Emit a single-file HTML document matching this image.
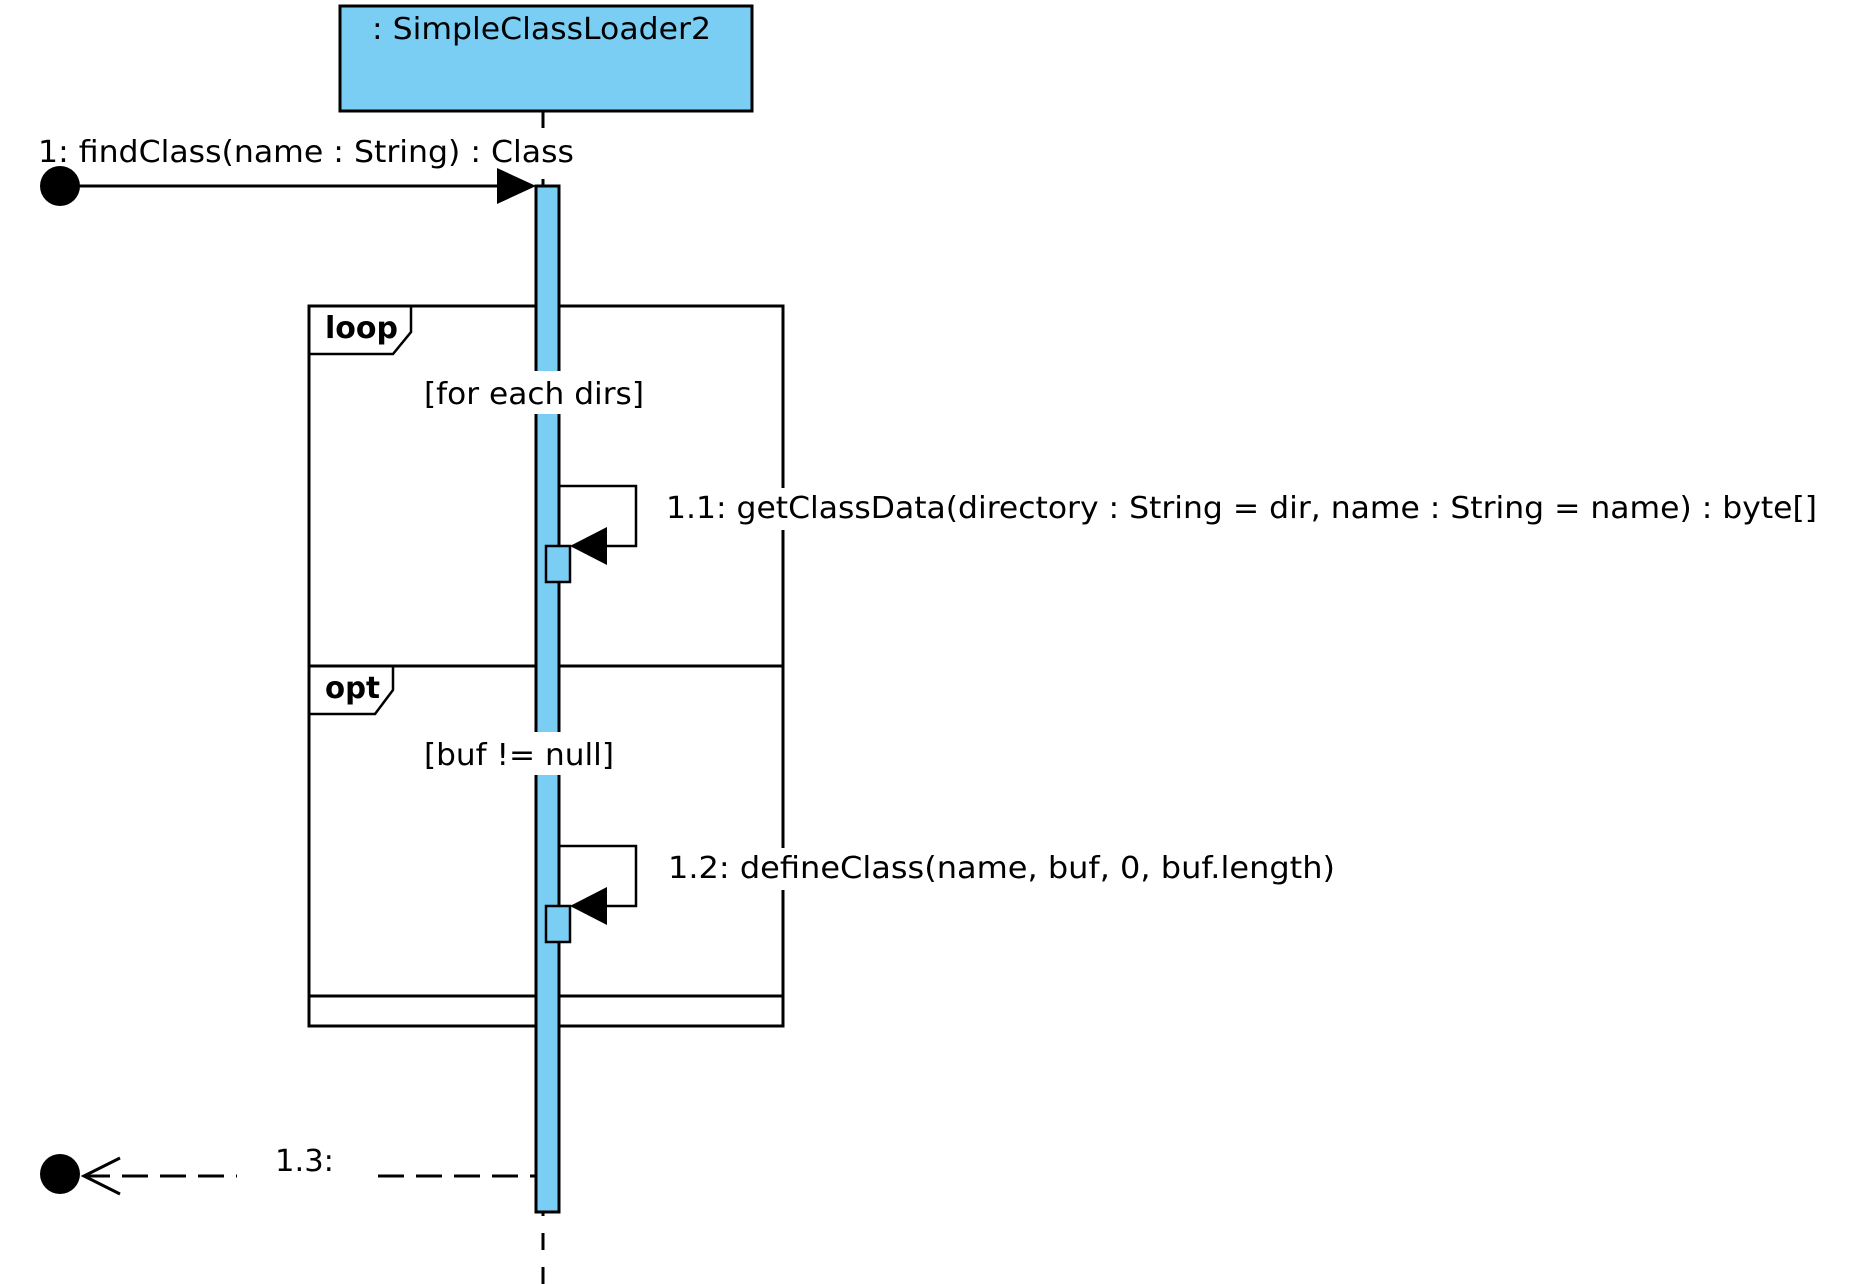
<!DOCTYPE html>
<html><head><meta charset="utf-8"><style>
html,body{margin:0;padding:0;background:#fff;}
svg{display:block;}
text{font-family:"DejaVu Sans","Liberation Sans",sans-serif;font-size:30px;fill:#000;}
</style></head><body>
<svg width="1863" height="1284" viewBox="0 0 1863 1284" xmlns="http://www.w3.org/2000/svg">
<rect x="340" y="6" width="412" height="105" fill="#7acef4" stroke="#000" stroke-width="3"/>
<text x="372" y="39" textLength="339" lengthAdjust="spacingAndGlyphs">: SimpleClassLoader2</text>
<line x1="543" y1="111" x2="543" y2="1284" stroke="#000" stroke-width="3" stroke-dasharray="17,17"/>
<rect x="309" y="306" width="474" height="720" fill="none" stroke="#000" stroke-width="3"/>
<line x1="309" y1="666" x2="783" y2="666" stroke="#000" stroke-width="3"/>
<line x1="309" y1="996" x2="783" y2="996" stroke="#000" stroke-width="3"/>
<path d="M309 354 H393 L411 332 V306" fill="none" stroke="#000" stroke-width="2.5"/>
<path d="M309 714 H375 L393 690 V666" fill="none" stroke="#000" stroke-width="2.5"/>
<text x="325" y="338" font-weight="bold" textLength="73" lengthAdjust="spacingAndGlyphs">loop</text>
<text x="325" y="698" font-weight="bold" textLength="55" lengthAdjust="spacingAndGlyphs">opt</text>
<rect x="536" y="186" width="23" height="1026" fill="#7acef4" stroke="#000" stroke-width="3"/>
<rect x="422" y="371" width="224" height="43" fill="#fff"/>
<text x="424" y="404" textLength="220" lengthAdjust="spacingAndGlyphs">[for each dirs]</text>
<rect x="422" y="732" width="194" height="43" fill="#fff"/>
<text x="424" y="765" textLength="190" lengthAdjust="spacingAndGlyphs">[buf != null]</text>
<rect x="34" y="132" width="545" height="40" fill="#fff"/>
<text x="38" y="162" textLength="536" lengthAdjust="spacingAndGlyphs">1: findClass(name : String) : Class</text>
<circle cx="60" cy="186" r="20" fill="#000"/>
<line x1="60" y1="186" x2="500" y2="186" stroke="#000" stroke-width="3"/>
<polygon points="497,168 536,186 497,204" fill="#000"/>
<polyline points="559,486 636,486 636,546 572,546" fill="none" stroke="#000" stroke-width="2.5"/>
<rect x="546" y="546" width="24" height="36" fill="#7acef4" stroke="#000" stroke-width="2.5"/>
<polygon points="570,546 607,527 607,565" fill="#000"/>
<rect x="660" y="488" width="1165" height="42" fill="#fff"/>
<text x="666" y="518" textLength="1151" lengthAdjust="spacingAndGlyphs">1.1: getClassData(directory : String = dir, name : String = name) : byte[]</text>
<polyline points="559,846 636,846 636,906 572,906" fill="none" stroke="#000" stroke-width="2.5"/>
<rect x="546" y="906" width="24" height="36" fill="#7acef4" stroke="#000" stroke-width="2.5"/>
<polygon points="570,906 607,887 607,925" fill="#000"/>
<rect x="662" y="848" width="680" height="42" fill="#fff"/>
<text x="668" y="878" textLength="667" lengthAdjust="spacingAndGlyphs">1.2: defineClass(name, buf, 0, buf.length)</text>
<circle cx="60" cy="1174" r="20" fill="#000"/>
<line x1="84" y1="1176" x2="237" y2="1176" stroke="#000" stroke-width="3" stroke-dasharray="26,12"/>
<line x1="378" y1="1176" x2="536" y2="1176" stroke="#000" stroke-width="3" stroke-dasharray="26,12"/>
<polyline points="120,1158 84,1176 120,1194" fill="none" stroke="#000" stroke-width="3"/>
<text x="275" y="1171" textLength="59" lengthAdjust="spacingAndGlyphs">1.3:</text>
</svg>
</body></html>
